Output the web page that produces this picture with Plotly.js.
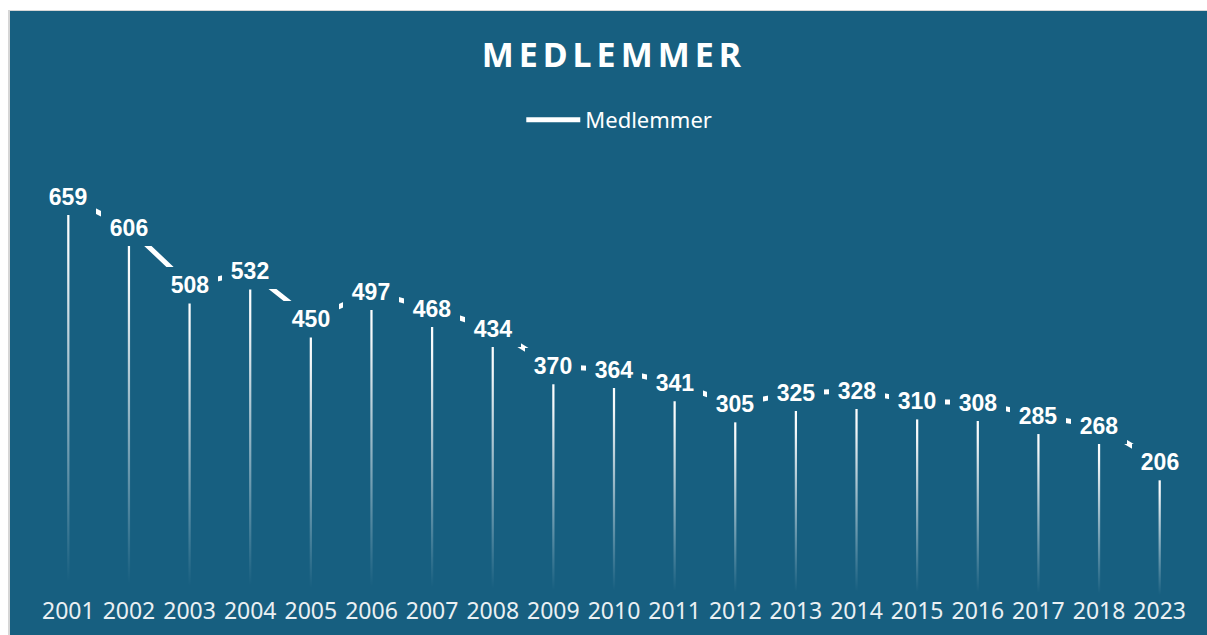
<!DOCTYPE html>
<html>
<head>
<meta charset="utf-8">
<script src="https://cdn.plot.ly/plotly-3.0.1.min.js"></script>
<style>
  html, body { margin: 0; padding: 0; background: #ffffff; width: 1207px; height: 635px; overflow: hidden; }
  #frame { position: absolute; left: 8px; top: 10px; width: 1199px; height: 625px; border-left: 2px solid #d6d6d6; border-top: 1px solid #d6d6d6; box-sizing: border-box; }
  #chart { position: absolute; left: 10px; top: 11px; width: 1197px; height: 624px; }
</style>
</head>
<body>
<div id="frame"></div>
<div id="chart"></div>
<script>
// ---- data ----
const years = ['2001','2002','2003','2004','2005','2006','2007','2008','2009','2010','2011','2012','2013','2014','2015','2016','2017','2018','2023'];
const members = [659, 606, 508, 532, 450, 497, 468, 434, 370, 364, 341, 305, 325, 328, 310, 308, 285, 268, 206];
const seriesName = 'Medlemmer';
const chartTitle = 'MEDLEMMER';

// ---- styling ----
const BG = '#175f80';
const yShift = 30.7;   // line + labels sit this far (in axis units) above the drop lines

const traces = [
  // drop lines (fading gradient applied after render)
  {
    type: 'bar',
    x: years,
    y: members,
    width: 0.037,
    marker: { color: '#ffffff', line: { width: 0 } },
    showlegend: false,
    hoverinfo: 'skip'
  },
  // connecting line through the label centres
  {
    type: 'scatter',
    mode: 'lines',
    x: years,
    y: members.map(v => v + yShift),
    name: seriesName,
    line: { color: '#ffffff', width: 5 },
    cliponaxis: false,
    hoverinfo: 'skip'
  }
];

const annotations = members.map((v, i) => ({
  x: i,
  y: v + yShift,
  xref: 'x',
  yref: 'y',
  text: String(v),
  showarrow: false,
  bgcolor: BG,
  borderpad: 0,
  borderwidth: 0,
  width: 56,
  height: 36,
  align: 'center',
  valign: 'middle',
  font: { family: 'Liberation Sans, Arial, sans-serif', size: 23, color: '#ffffff', weight: 'bold' },
  xanchor: 'center',
  yanchor: 'middle'
}));

const layout = {
  width: 1197,
  height: 624,
  paper_bgcolor: BG,
  plot_bgcolor: BG,
  margin: { l: 28, r: 17, t: 180, b: 14 },
  barmode: 'overlay',
  title: {
    text: chartTitle,
    x: 0.5045, xanchor: 'center',
    y: 1 - 44 / 624, yanchor: 'middle',
    font: { family: 'Noto Sans, sans-serif', size: 34, color: '#ffffff', weight: 'bold' }
  },
  showlegend: true,
  legend: {
    orientation: 'h',
    x: 0.515, xanchor: 'center',
    y: 1.165, yanchor: 'middle',
    font: { family: 'Noto Sans, sans-serif', size: 22, color: '#ffffff' },
    bgcolor: 'rgba(0,0,0,0)'
  },
  xaxis: {
    type: 'category',
    range: [-0.5, years.length - 0.5],
    anchor: 'free',
    position: 0.06,
    showgrid: false,
    zeroline: false,
    showline: false,
    ticks: '',
    fixedrange: true,
    tickfont: { family: 'Noto Sans, sans-serif', size: 23, color: '#eaf0f3' }
  },
  yaxis: {
    range: [-34.2, 700],
    showgrid: false, zeroline: false, showline: false, showticklabels: false, ticks: '', fixedrange: true
  },
  annotations: annotations
};

function tweak() {
  const NS = 'http://www.w3.org/2000/svg';
  const svg = document.querySelector('#chart .main-svg');
  if (svg && !document.getElementById('dropfade')) {
    let defs = svg.querySelector('defs');
    if (!defs) { defs = document.createElementNS(NS, 'defs'); svg.insertBefore(defs, svg.firstChild); }
    const lg = document.createElementNS(NS, 'linearGradient');
    lg.setAttribute('id', 'dropfade');
    lg.setAttribute('x1', '0'); lg.setAttribute('y1', '0');
    lg.setAttribute('x2', '0'); lg.setAttribute('y2', '1');
    [[0, 1], [0.1, 0.95], [0.95, 0], [1, 0]].forEach(([o, op]) => {
      const s = document.createElementNS(NS, 'stop');
      s.setAttribute('offset', String(o));
      s.setAttribute('stop-color', '#ffffff');
      s.setAttribute('stop-opacity', String(op));
      lg.appendChild(s);
    });
    defs.appendChild(lg);
  }
  document.querySelectorAll('#chart .barlayer path').forEach(p => { p.style.fill = 'url(#dropfade)'; p.style.fillOpacity = '1'; });
  const t = document.querySelector('.gtitle');
  if (t) t.style.letterSpacing = '5px';
  document.querySelectorAll('.legend [clip-path]').forEach(el => el.removeAttribute('clip-path'));
  document.querySelectorAll('.legendlines path').forEach(p => p.setAttribute('d', 'M-19,0h54'));
}
Plotly.newPlot('chart', traces, layout, { displayModeBar: false, staticPlot: true }).then(() => {
  tweak();
  setTimeout(tweak, 50);
});
</script>
</body>
</html>
